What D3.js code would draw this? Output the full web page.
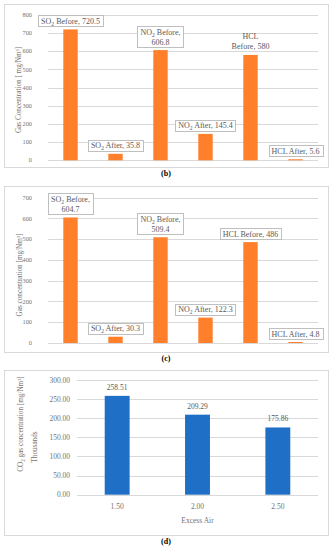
<!DOCTYPE html>
<html>
<head>
<meta charset="utf-8">
<script src="https://cdn.jsdelivr.net/npm/d3@7"></script>
<style>
  body { margin: 0; background: #fff; }
  svg { display: block; }
  text { font-family: "Liberation Serif", "DejaVu Serif", serif; fill: #595959; }
  .tick { fill: #737373; }
</style>
</head>
<body>
<div class="chart"></div>
<script>
var width = 333,
    height = 550;

// gases, same order in (b) and (c)
var gases = ["SO₂ Before", "SO₂ After", "NO₂ Before", "NO₂ After", "HCL Before", "HCL After"];
var valuesB = [720.5, 35.8, 606.8, 145.4, 580, 5.6];
var valuesC = [604.7, 30.3, 509.4, 122.3, 486, 4.8];
// how the data label wraps: 0 = one line, 1 = break after comma, 2 = break after first word
var wrapB = [0, 0, 1, 0, 2, 0];
var wrapC = [1, 0, 1, 0, 0, 0];
var ticksB = [0, 100, 200, 300, 400, 500, 600, 700, 800];
var ticksC = [0, 100, 200, 300, 400, 500, 600, 700];

// (d)
var excessAir = ["1.50", "2.00", "2.50"];
var co2 = [258.51, 209.29, 175.86];
var ticksD = [0, 50, 100, 150, 200, 250, 300];

var orange = "#ff7f2a",
    blue = "#1f6fc6",
    grid = "#d9d9d9";

var svg = d3.select(".chart").append("svg")
    .attr("width", width)
    .attr("height", height);

// writes a string into a text element, turning ₂ into a real subscript
function richText(sel, str, size) {
    var parts = str.split("₂");
    parts.forEach(function(p, i) {
        if (i > 0) {
            sel.append("tspan").attr("font-size", size * 0.7).attr("dy", 2).text("2");
            sel.append("tspan").attr("dy", -2).text(p);
        } else {
            sel.append("tspan").text(p);
        }
    });
}

function panel(o) {
    var g = svg.append("g");

    // outer frame
    g.append("rect")
        .attr("x", 4.5).attr("y", o.top + 0.5)
        .attr("width", 324).attr("height", o.bottom - o.top)
        .attr("fill", "none").attr("stroke", grid);

    var x = d3.scaleBand()
        .domain(o.cats)
        .range(o.xr)
        .paddingInner(o.pad).paddingOuter(o.pad / 2);
    var y = d3.scaleLinear()
        .domain([0, d3.max(o.ticks)])
        .range(o.yr);

    g.append("g").selectAll("line")
        .data(o.ticks)
        .enter().append("line")
        .attr("x1", o.xr[0]).attr("x2", o.xr[1])
        .attr("y1", function(d) { return Math.round(y(d)) + 0.5; })
        .attr("y2", function(d) { return Math.round(y(d)) + 0.5; })
        .attr("stroke", grid);

    g.append("g").selectAll("text")
        .data(o.ticks)
        .enter().append("text")
        .attr("class", "tick")
        .attr("x", o.tickX)
        .attr("y", function(d) { return y(d) + o.tickSize / 3; })
        .attr("text-anchor", "end")
        .attr("font-size", o.tickSize)
        .text(o.tickFmt);

    g.append("g").selectAll("rect")
        .data(o.vals)
        .enter().append("rect")
        .attr("x", function(d, i) { return x(o.cats[i]); })
        .attr("y", function(d) { return y(d); })
        .attr("width", x.bandwidth())
        .attr("height", function(d) { return y(0) - y(d); })
        .attr("fill", o.color);

    // y title
    o.titles.forEach(function(t) {
        var tt = g.append("text")
            .attr("class", "tick")
            .attr("transform", "translate(" + t.x + "," + t.y + ") rotate(-90)")
            .attr("text-anchor", "middle")
            .attr("font-size", 7.2);
        richText(tt, t.text, 7.2);
    });

    g.append("text")
        .attr("x", 166).attr("y", o.bottom + 9)
        .attr("text-anchor", "middle")
        .attr("font-size", 8).attr("font-weight", "bold")
        .style("fill", "#000")
        .text(o.caption);

    return {g: g, x: x, y: y};
}

function boxLabels(p, cats, vals, wrap, noBox) {
    cats.forEach(function(c, i) {
        var full = c + ", " + vals[i];
        var lines;
        if (wrap[i] == 1) lines = [c + ",", String(vals[i])];
        else if (wrap[i] == 2) { var w = full.split(" "); lines = [w[0], w.slice(1).join(" ")]; }
        else lines = [full];

        var cx = p.x(c) + p.x.bandwidth() / 2;
        var bottom = p.y(vals[i]) - 2;
        var lh = 10;
        var lg = p.g.append("g");
        var top = bottom - lines.length * lh - 2;
        var txt = lg.append("text").attr("text-anchor", "middle").attr("font-size", 8);
        lines.forEach(function(l, k) {
            var t = txt.append("tspan").attr("x", cx).attr("y", top + 8.5 + k * lh);
            richText(t, l, 8);
        });
        if (noBox.indexOf(i) < 0) {
            var bb = txt.node().getBBox();
            lg.insert("rect", "text")
                .attr("x", Math.round(bb.x - 3) + 0.5)
                .attr("y", Math.round(top) + 0.5)
                .attr("width", Math.round(bb.width + 6))
                .attr("height", Math.round(lines.length * lh + 1))
                .attr("fill", "#fff")
                .attr("stroke", "#bfbfbf");
        }
    });
}

// (b)
var pb = panel({
    top: 4, bottom: 167, cats: gases, vals: valuesB, ticks: ticksB,
    xr: [48, 318], yr: [160.3, 15], pad: 0.68, color: orange,
    tickX: 32, tickSize: 6.3, tickFmt: function(d) { return d; },
    titles: [{x: 21, y: 90, text: "Gas Concentration [ mg/Nm³]"}],
    caption: "(b)"
});
boxLabels(pb, gases, valuesB, wrapB, [4]);

// (c)
var pc = panel({
    top: 186, bottom: 352, cats: gases, vals: valuesC, ticks: ticksC,
    xr: [48, 318], yr: [343, 197.7], pad: 0.68, color: orange,
    tickX: 32, tickSize: 6.3, tickFmt: function(d) { return d; },
    titles: [{x: 22, y: 275, text: "Gas concentration [mg/Nm³]"}],
    caption: "(c)"
});
boxLabels(pc, gases, valuesC, wrapC, []);

// (d)
var pd = panel({
    top: 370, bottom: 535, cats: excessAir, vals: co2, ticks: ticksD,
    xr: [77, 318], yr: [494.7, 380], pad: 0.69, color: blue,
    tickX: 70, tickSize: 7.5, tickFmt: d3.format(".2f"),
    titles: [{x: 23, y: 424, text: "CO₂ gas concentration [mg/Nm³]"},
             {x: 37, y: 447, text: "Thousands"}],
    caption: "(d)"
});

pd.g.append("g").selectAll("text")
    .data(co2)
    .enter().append("text")
    .attr("x", function(d, i) { return pd.x(excessAir[i]) + pd.x.bandwidth() / 2; })
    .attr("y", function(d) { return pd.y(d) - 6; })
    .attr("text-anchor", "middle")
    .attr("font-size", 7.5)
    .text(d3.format(".2f"));

pd.g.append("g").selectAll("text")
    .data(excessAir)
    .enter().append("text")
    .attr("class", "tick")
    .attr("x", function(d) { return pd.x(d) + pd.x.bandwidth() / 2; })
    .attr("y", 509)
    .attr("text-anchor", "middle")
    .attr("font-size", 7.5)
    .text(function(d) { return d; });

pd.g.append("text")
    .attr("class", "tick")
    .attr("x", 197.5).attr("y", 523)
    .attr("text-anchor", "middle")
    .attr("font-size", 7.5)
    .text("Excess Air");
</script>
</body>
</html>
